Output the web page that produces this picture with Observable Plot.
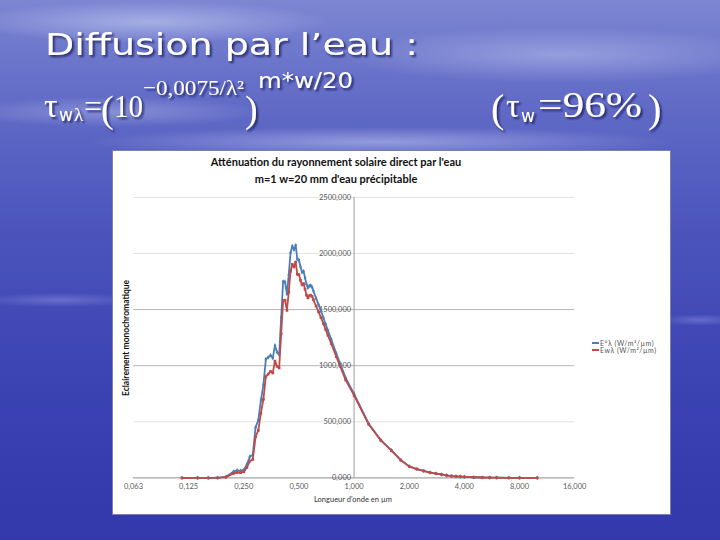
<!DOCTYPE html>
<html>
<head>
<meta charset="utf-8">
<script src="https://cdn.jsdelivr.net/npm/d3@7"></script>
<script src="https://cdn.jsdelivr.net/npm/@observablehq/plot@0.6"></script>
<style>
html, body { margin: 0; padding: 0; }
body {
  width: 720px; height: 540px; overflow: hidden; position: relative;
  background:
    radial-gradient(ellipse 260px 30px at 150px 22px, rgba(225,230,255,0.45), rgba(225,230,255,0) 70%),
    radial-gradient(ellipse 320px 40px at 560px 55px, rgba(225,230,255,0.35), rgba(225,230,255,0) 70%),
    radial-gradient(ellipse 420px 22px at 380px 142px, rgba(205,210,250,0.5), rgba(205,210,250,0) 70%),
    radial-gradient(ellipse 220px 22px at 110px 112px, rgba(225,230,255,0.3), rgba(225,230,255,0) 70%),
    radial-gradient(ellipse 120px 10px at 60px 300px, rgba(170,175,240,0.35), rgba(170,175,240,0) 70%),
    radial-gradient(ellipse 60px 8px at 700px 320px, rgba(170,175,240,0.35), rgba(170,175,240,0) 70%),
    linear-gradient(180deg, #7c86d2 0%, #6670c8 15%, #5862c2 28%, #4a52bb 45%, #3c43b3 70%, #3338aa 100%);
}
#header { position: absolute; left: 0; top: 0; }
#box { position: absolute; left: 112px; top: 150px; width: 557px; height: 363px; background: #fff; border: 1px solid #7e80a8; }
#chart { position: absolute; left: -1px; top: -1px; }
.ttl { position: absolute; left: 0; width: 446px; text-align: center; font-family: Lato, sans-serif; font-weight: bold; font-size: 11px; line-height: 13px; color: #111; white-space: nowrap; }
#ylab { position: absolute; left: -67px; top: 181px; width: 160px; height: 12px; line-height: 12px; text-align: center; transform: rotate(-90deg); font-family: Lato, sans-serif; font-weight: bold; font-size: 8.5px; color: #111; white-space: nowrap; }
#xlab { position: absolute; left: 140px; top: 344px; width: 200px; line-height: 10px; text-align: center; font-family: Lato, sans-serif; font-size: 7.5px; color: #333; white-space: nowrap; }
#legend { position: absolute; left: 479px; top: 188px; font-family: Lato, sans-serif; font-size: 7px; color: #555; letter-spacing: 0.5px; }
#legend .row { display: flex; align-items: center; height: 7px; white-space: nowrap; }
#legend .sw { width: 7px; height: 2px; margin-right: 1px; }
</style>
</head>
<body>
<svg id="header" width="720" height="145" xmlns="http://www.w3.org/2000/svg">
  <defs>
    <filter id="sh" x="-10%" y="-30%" width="120%" height="160%">
      <feDropShadow dx="2" dy="2" stdDeviation="0.8" flood-color="#15184a" flood-opacity="0.75"/>
    </filter>
  </defs>
  <g fill="#ffffff" filter="url(#sh)">
    <text x="45" y="55" font-family="DejaVu Sans" font-size="30" textLength="373" lengthAdjust="spacingAndGlyphs">Diffusion par l’eau :</text>
    <text x="44" y="117" font-family="Liberation Serif" font-size="34">τ</text>
    <text x="59" y="121" font-family="DejaVu Sans" font-size="17">w</text>
    <text x="74" y="121" font-family="Liberation Serif" font-size="19">λ</text>
    <text x="84" y="117" font-family="Liberation Serif" font-size="32">=</text>
    <text x="101" y="122" font-family="Liberation Serif" font-size="38">(</text>
    <text x="114" y="117" font-family="Liberation Serif" font-size="32" textLength="29" lengthAdjust="spacingAndGlyphs">10</text>
    <text x="143" y="95" font-family="Liberation Serif" font-size="22" textLength="101" lengthAdjust="spacingAndGlyphs">−0,0075/λ²</text>
    <text x="245" y="122" font-family="Liberation Serif" font-size="38">)</text>
    <text x="258" y="88" font-family="DejaVu Sans" font-size="21" textLength="95" lengthAdjust="spacingAndGlyphs">m*w/20</text>
    <text x="491" y="122" font-family="Liberation Serif" font-size="40">(</text>
    <text x="506" y="117" font-family="Liberation Serif" font-size="34">τ</text>
    <text x="521" y="122" font-family="DejaVu Sans" font-size="17">w</text>
    <text x="538" y="117" font-family="Liberation Serif" font-size="35" textLength="104" lengthAdjust="spacingAndGlyphs">=96%</text>
    <text x="648" y="122" font-family="Liberation Serif" font-size="40">)</text>
  </g>
</svg>

<div id="box">
  <div class="ttl" style="top:4px">Atténuation du rayonnement solaire direct par l'eau</div>
  <div class="ttl" style="top:21px">m=1 w=20 mm d'eau précipitable</div>
  <div id="chart"></div>
  <div id="ylab">Eclairement monochromatique</div>
  <div id="xlab">Longueur d'onde en µm</div>
  <div id="legend"></div>
</div>

<script>
// ---- Data ----
const wavelength = [0.115, 0.14, 0.16, 0.18, 0.20, 0.22, 0.23, 0.24, 0.25, 0.26, 0.27, 0.28, 0.29, 0.30,
  0.31, 0.32, 0.33, 0.34, 0.35, 0.36, 0.37, 0.38, 0.39, 0.40, 0.41, 0.42, 0.43, 0.44, 0.45, 0.46,
  0.47, 0.48, 0.49, 0.50, 0.51, 0.52, 0.53, 0.54, 0.55, 0.56, 0.57, 0.58, 0.59, 0.60, 0.62, 0.64,
  0.66, 0.68, 0.70, 0.72, 0.75, 0.80, 0.90, 1.0, 1.2, 1.4, 1.6, 1.8, 2.0, 2.2, 2.4, 2.6, 2.8, 3.0,
  3.2, 3.4, 3.6, 3.8, 4.0, 4.5, 5.0, 5.5, 6.0, 7.0, 8.0, 10.0];

// E°λ (W/m²/µm) - blue series
const eZero = [0.007, 0.03, 0.23, 1.25, 10.7, 57.5, 66.7, 63, 70.9, 120, 190, 205, 450, 514,
  689, 830, 1059, 1074, 1093, 1068, 1181, 1120, 1098, 1429, 1751, 1747, 1639, 1810, 2006, 2066,
  2033, 2074, 1950, 1942, 1882, 1833, 1842, 1783, 1725, 1695, 1712, 1715, 1700, 1666, 1602, 1544,
  1486, 1427, 1369, 1314, 1235, 1109, 891, 748, 485, 337, 245, 159, 103, 79, 62, 48, 39, 31,
  22.6, 16.6, 13.5, 11.1, 9.5, 5.9, 3.8, 2.6, 1.8, 1.0, 0.6, 0.25];

// Ewλ (W/m²/µm) - red series
const eWater = [0.002, 0.012, 0.12, 0.73, 6.9, 40.2, 48.1, 46.7, 53.8, 93, 150, 164.5, 366.5, 424,
  576, 701, 904, 925, 949, 935, 1041, 994, 980, 1283, 1580, 1584, 1493, 1656, 1842, 1904,
  1880, 1924, 1815, 1812, 1761, 1720, 1732, 1681, 1629, 1604, 1623, 1629, 1618, 1588, 1532, 1480,
  1428, 1375, 1322, 1271, 1198, 1080, 872, 735, 479, 334, 243, 158, 102.6, 78.7, 61.8, 47.9, 38.9, 30.9,
  22.6, 16.6, 13.5, 11.1, 9.5, 5.9, 3.8, 2.6, 1.8, 1.0, 0.6, 0.25];

const seriesNames = ["E°λ (W/m²/µm)", "Ewλ (W/m²/µm)"];
const seriesColors = ["#4a7ebb", "#be4b48"];

const xTicks = [0.0625, 0.125, 0.25, 0.5, 1, 2, 4, 8, 16];
const xTickLabels = ["0,063", "0,125", "0,250", "0,500", "1,000", "2,000", "4,000", "8,000", "16,000"];
const yTicks = [0, 500, 1000, 1500, 2000, 2500];
const yTickLabels = ["0,000", "500,000", "1000,000", "1500,000", "2000,000", "2500,000"];

// ---- Build ----
const blueRows = wavelength.map((w, i) => ({w, v: eZero[i]}));
const redRows = wavelength.map((w, i) => ({w, v: eWater[i]}));

const chart = Plot.plot({
  width: 559,
  height: 365,
  marginLeft: 21,
  marginRight: 96,
  marginTop: 47,
  marginBottom: 37,
  style: {background: "transparent", fontFamily: "Lato, sans-serif", fontSize: "7.5px", color: "#595959", overflow: "visible"},
  x: {type: "log", base: 2, domain: [0.0625, 16]},
  y: {domain: [0, 2500], axis: null},
  marks: [
    Plot.ruleY(yTicks.slice(1), {stroke: d => (d === 1000 || d === 1500) ? "#b4b4b4" : "#e2e2e2", strokeWidth: 1}),
    Plot.ruleY([0], {stroke: "#8c8c8c", strokeWidth: 1}),
    Plot.ruleX([1], {y1: 0, y2: 2500, stroke: "#9c9c9c", strokeWidth: 1}),
    Plot.axisX({ticks: xTicks, tickFormat: d => xTickLabels[xTicks.indexOf(d)], tickSize: 0, tickPadding: 6, label: null, fill: "#595959"}),
    Plot.text(yTicks, {x: () => 1, y: d => d, text: (d, i) => yTickLabels[i], textAnchor: "end", dx: -3, fill: "#595959", fontSize: 7.5}),
    Plot.line(blueRows, {x: "w", y: "v", stroke: seriesColors[0], strokeWidth: 1.8}),
    Plot.dot(blueRows, {x: "w", y: "v", symbol: "diamond", r: 1.4, fill: seriesColors[0]}),
    Plot.line(redRows, {x: "w", y: "v", stroke: seriesColors[1], strokeWidth: 1.8}),
    Plot.dot(redRows, {x: "w", y: "v", symbol: "square", r: 1.5, fill: seriesColors[1]})
  ]
});
document.getElementById("chart").appendChild(chart);

const legend = document.getElementById("legend");
seriesNames.forEach((name, i) => {
  const row = document.createElement("div");
  row.className = "row";
  const sw = document.createElement("span");
  sw.className = "sw";
  sw.style.background = seriesColors[i];
  const t = document.createElement("span");
  t.textContent = name;
  row.appendChild(sw);
  row.appendChild(t);
  legend.appendChild(row);
});
</script>
</body>
</html>
